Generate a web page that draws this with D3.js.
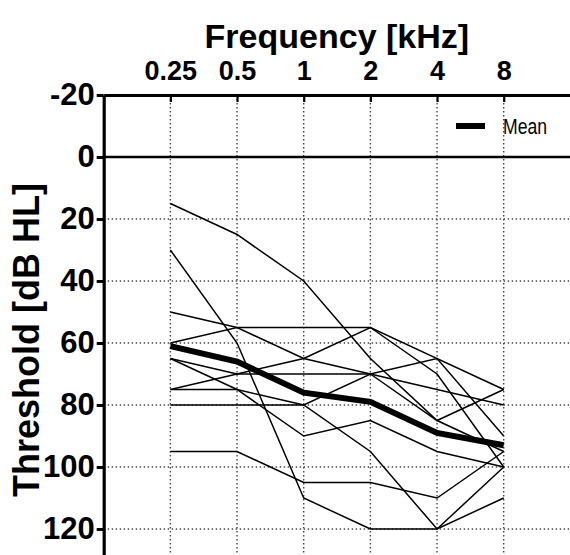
<!DOCTYPE html>
<html>
<head>
<meta charset="utf-8">
<script src="https://cdn.jsdelivr.net/npm/d3@7"></script>
<style>
  body { margin: 0; background: #fff; }
  svg { display: block; font-family: "Liberation Sans", Arial, sans-serif; }
</style>
</head>
<body>
<svg id="chart" width="570" height="555"></svg>
<script>
/* audiogram: individual thresholds + mean */
const freqs = [0.25, 0.5, 1, 2, 4, 8];
const freqLabels = ["0.25", "0.5", "1", "2", "4", "8"];
const yTicks = [-20, 0, 20, 40, 60, 80, 100, 120];

// one array per listener, dB HL at each frequency
const s01 = [15, 25, 40, 65, 85, 75];
const s02 = [30, 60, 110, 120, 120, 110];
const s03 = [50, 55, 55, 55, 65, 90];
const s04 = [60, 55, 65, 70, 75, 80];
const s05 = [75, 70, 65, 55, 70, 100];
const s06 = [65, 70, 70, 70, 65, 75];
const s07 = [65, 75, 90, 85, 95, 100];
const s08 = [75, 75, 80, 95, 120, 100];
const s09 = [80, 80, 80, 70, 85, 95];
const s10 = [95, 95, 105, 105, 110, 95];
const subjects = [s01, s02, s03, s04, s05, s06, s07, s08, s09, s10];

const meanValues = [61, 66, 76, 79, 89, 93];

var svg = d3.select("#chart");

var x = d3.scaleLog().base(2).domain([0.125, 16]).range([103.7, 570.4]);
var y = d3.scaleLinear().domain([-20, 140]).range([95, 591]);

drawGrid();
drawAxes();
drawLines();
drawLegend();
drawTitles();

function drawGrid() {
  let grid = svg.append("g").attr("class", "grid");

  grid.selectAll("line.vgrid")
    .data(freqs)
    .enter().append("line")
    .attr("class", "vgrid")
    .attr("x1", d => x(d)).attr("x2", d => x(d))
    .attr("y1", y(-20)).attr("y2", 555)
    .attr("stroke", "#444")
    .attr("stroke-width", 1.4)
    .attr("stroke-dasharray", "1.4,2.6");

  grid.selectAll("line.hgrid")
    .data(yTicks.filter(d => d > 0))
    .enter().append("line")
    .attr("class", "hgrid")
    .attr("x1", x(0.125)).attr("x2", 570)
    .attr("y1", d => y(d)).attr("y2", d => y(d))
    .attr("stroke", "#444")
    .attr("stroke-width", 1.4)
    .attr("stroke-dasharray", "1.4,2.6");
}

function drawAxes() {
  // frequency axis sits on top of the frame
  let xAxis = d3.axisTop(x)
    .tickValues(freqs)
    .tickFormat((d, i) => freqLabels[i])
    .tickSizeInner(-7)
    .tickSizeOuter(0)
    .tickPadding(15);

  let gx = svg.append("g")
    .attr("transform", "translate(0," + y(-20) + ")")
    .call(xAxis);
  gx.select(".domain").attr("stroke-width", 3);
  gx.selectAll(".tick line").attr("stroke-width", 2.2);
  gx.selectAll(".tick text")
    .attr("font-size", 27)
    .attr("font-weight", "bold")
    .attr("fill", "#000");

  let yAxis = d3.axisLeft(y)
    .tickValues(yTicks)
    .tickFormat(d => String(d))   // plain hyphen, like the original
    .tickSizeInner(7)
    .tickSizeOuter(0)
    .tickPadding(2);

  let gy = svg.append("g")
    .attr("transform", "translate(" + x(0.125) + ",0)")
    .call(yAxis);
  gy.select(".domain").attr("stroke-width", 3.2);
  gy.selectAll(".tick line").attr("stroke-width", 3);
  gy.selectAll(".tick text")
    .attr("font-size", 31)
    .attr("font-weight", "bold")
    .attr("fill", "#000");

  // 0 dB reference line
  svg.append("line")
    .attr("x1", x(0.125)).attr("x2", 570)
    .attr("y1", y(0)).attr("y2", y(0))
    .attr("stroke", "#000")
    .attr("stroke-width", 2.6);
}

function drawLines() {
  let line = d3.line()
    .x((d, i) => x(freqs[i]))
    .y(d => y(d));

  svg.append("g").selectAll("path")
    .data(subjects)
    .enter().append("path")
    .attr("d", line)
    .attr("fill", "none")
    .attr("stroke", "#000")
    .attr("stroke-width", 1.5);

  svg.append("path")
    .datum(meanValues)
    .attr("d", line)
    .attr("fill", "none")
    .attr("stroke", "#000")
    .attr("stroke-width", 6);
}

function drawLegend() {
  let g = svg.append("g").attr("transform", "translate(456," + y(-10) + ")");
  g.append("line")
    .attr("x1", 0).attr("x2", 29)
    .attr("y1", 0).attr("y2", 0)
    .attr("stroke", "#000")
    .attr("stroke-width", 6);
  // the original uses a condensed face; squeeze the regular one to match
  g.append("text")
    .attr("x", 47).attr("y", 0)
    .attr("dy", "0.36em")
    .attr("font-size", 22)
    .attr("textLength", 44)
    .attr("lengthAdjust", "spacingAndGlyphs")
    .text("Mean");
}

function drawTitles() {
  svg.append("text")
    .attr("x", (x(0.125) + 570) / 2)
    .attr("y", 48)
    .attr("text-anchor", "middle")
    .attr("font-size", 34)
    .attr("font-weight", "bold")
    .text("Frequency [kHz]");

  svg.append("text")
    .attr("transform", "translate(39,340) rotate(-90)")
    .attr("text-anchor", "middle")
    .attr("font-size", 36)
    .attr("font-weight", "bold")
    .text("Threshold [dB HL]");
}
</script>
</body>
</html>
